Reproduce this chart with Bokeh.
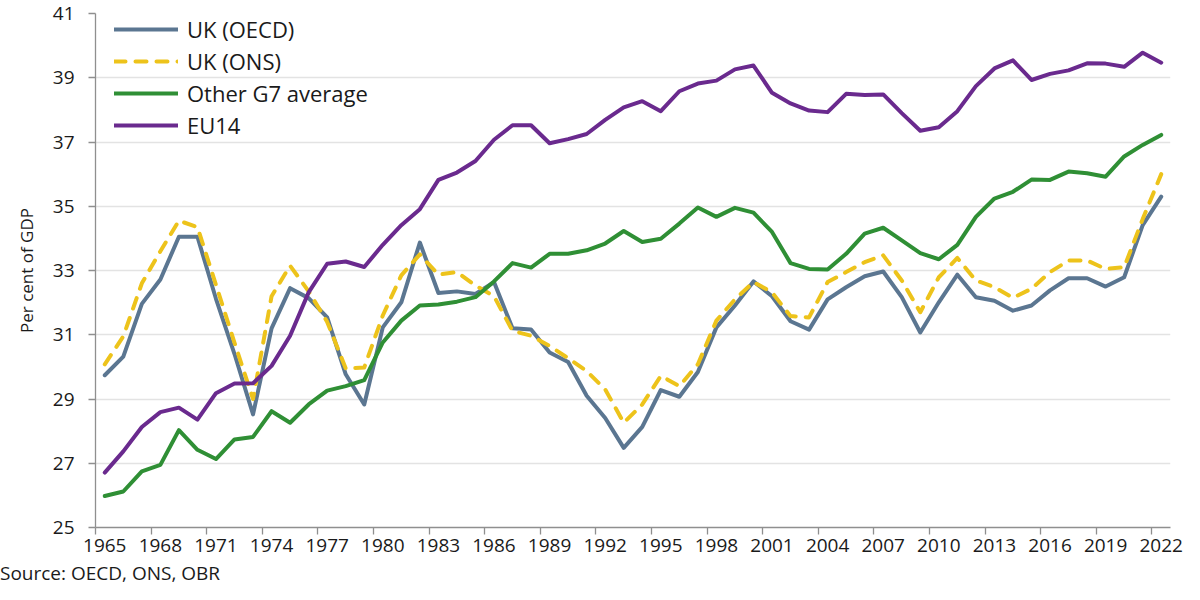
from bokeh.plotting import figure
from bokeh.layouts import column
from bokeh.models import FixedTicker, Legend, LegendItem, Range1d, Div
from bokeh.embed import file_html
from bokeh.resources import INLINE

years = list(range(1965, 2023))

uk_oecd = [29.74, 30.32, 31.96, 32.72, 34.05, 34.05, 32.12, 30.40, 28.52, 31.20,
           32.45, 32.14, 31.54, 29.77, 28.83, 31.23, 32.01, 33.87, 32.30, 32.35,
           32.27, 32.64, 31.20, 31.16, 30.45, 30.15, 29.10, 28.41, 27.48, 28.13,
           29.28, 29.07, 29.84, 31.23, 31.91, 32.66, 32.20, 31.42, 31.16, 32.10,
           32.48, 32.82, 32.97, 32.17, 31.07, 32.01, 32.87, 32.17, 32.06, 31.75,
           31.91, 32.38, 32.76, 32.76, 32.50, 32.79, 34.41, 35.30]

uk_ons = [30.08, 30.95, 32.60, 33.60, 34.55, 34.35, 32.55, 30.75, 29.00, 32.20,
          33.15, 32.35, 31.40, 29.95, 29.98, 31.60, 32.85, 33.50, 32.87, 32.95,
          32.53, 32.20, 31.12, 30.97, 30.65, 30.27, 29.87, 29.30, 28.26, 28.83,
          29.72, 29.40, 30.08, 31.44, 32.10, 32.64, 32.32, 31.58, 31.54, 32.64,
          32.95, 33.26, 33.47, 32.69, 31.70, 32.79, 33.39, 32.69, 32.48, 32.15,
          32.43, 32.95, 33.31, 33.31, 33.05, 33.10, 34.60, 36.00]

other_g7 = [25.98, 26.12, 26.75, 26.95, 28.03, 27.42, 27.13, 27.74, 27.82, 28.62,
            28.26, 28.83, 29.26, 29.40, 29.59, 30.76, 31.44, 31.91, 31.94, 32.03,
            32.17, 32.66, 33.23, 33.09, 33.52, 33.52, 33.63, 33.84, 34.23, 33.89,
            33.99, 34.46, 34.96, 34.67, 34.95, 34.80, 34.20, 33.23, 33.05, 33.03,
            33.52, 34.15, 34.33, 33.94, 33.54, 33.35, 33.80, 34.67, 35.24, 35.45,
            35.83, 35.82, 36.08, 36.03, 35.92, 36.55, 36.91, 37.22]

eu14 = [26.71, 27.37, 28.13, 28.59, 28.73, 28.36, 29.18, 29.48, 29.49, 30.03,
        30.97, 32.32, 33.21, 33.28, 33.11, 33.80, 34.41, 34.91, 35.82, 36.05,
        36.41, 37.07, 37.52, 37.52, 36.96, 37.09, 37.25, 37.69, 38.08, 38.27,
        37.96, 38.58, 38.82, 38.91, 39.26, 39.38, 38.53, 38.20, 37.98, 37.93,
        38.50, 38.46, 38.48, 37.90, 37.35, 37.46, 37.96, 38.74, 39.29, 39.54,
        38.93, 39.12, 39.23, 39.45, 39.44, 39.34, 39.78, 39.47]

series_names = ["UK (OECD)", "UK (ONS)", "Other G7 average", "EU14"]
y_ticks = [25, 27, 29, 31, 33, 35, 37, 39, 41]
x_label_years = list(range(1965, 2023, 3))
source_text = "Source: OECD, ONS, OBR"
y_title = "Per cent of GDP"

FONT = "Open Sans"
TXT = "#1a1a1a"
AXIS_C = "#8f8f8f"
colors = ["#5B7691", "#EDC31B", "#2F8F35", "#6A2A8E"]

W = 1184
P_H = 563
S_H = 21

p = figure(width=W, height=P_H, output_backend="svg", toolbar_location=None,
           x_range=Range1d(1964.5, 2022.5), y_range=Range1d(25, 41),
           min_border_left=95, min_border_right=14, min_border_top=13, min_border_bottom=36)
p.outline_line_color = None
p.background_fill_color = "white"
p.border_fill_color = "white"
p.xgrid.visible = False

# y axis
yax = p.yaxis[0]
yax.ticker = FixedTicker(ticks=y_ticks, minor_ticks=[])
yax.axis_line_color = AXIS_C
yax.axis_line_width = 1.3
yax.major_tick_line_color = AXIS_C
yax.major_tick_line_width = 1.3
yax.major_tick_out = 7
yax.major_tick_in = 0
yax.minor_tick_line_color = None
yax.major_label_text_font = FONT
yax.major_label_text_font_size = "19px"
yax.major_label_text_color = TXT
yax.major_label_standoff = 14
yax.axis_label = y_title
yax.axis_label_text_font = FONT
yax.axis_label_text_font_size = "17px"
yax.axis_label_text_font_style = "normal"
yax.axis_label_text_color = TXT
yax.axis_label_standoff = 12

p.ygrid.ticker = FixedTicker(ticks=y_ticks, minor_ticks=[])
p.ygrid.grid_line_color = "#e3e3e3"
p.ygrid.grid_line_width = 1.3

# x axis: labels at category centres, tick marks (minor) at category boundaries
boundaries = [y - 0.5 for y in x_label_years]
xax = p.xaxis[0]
xax.ticker = FixedTicker(ticks=x_label_years, minor_ticks=boundaries)
xax.axis_line_color = AXIS_C
xax.axis_line_width = 1.3
xax.major_tick_line_color = None
xax.major_tick_out = 7
xax.major_tick_in = 0
xax.minor_tick_line_color = AXIS_C
xax.minor_tick_line_width = 1.3
xax.minor_tick_out = 7
xax.minor_tick_in = 0
xax.major_label_text_font = FONT
xax.major_label_text_font_size = "19px"
xax.major_label_text_color = TXT
xax.major_label_standoff = 4

data = [uk_oecd, uk_ons, other_g7, eu14]
renderers = []
for i, vals in enumerate(data):
    kw = dict(line_color=colors[i], line_width=4, line_join="round", line_cap="round")
    if i == 1:
        kw["line_dash"] = "11 10"
    r = p.line(years, vals, **kw)
    renderers.append(r)

legend = Legend(items=[LegendItem(label=series_names[i], renderers=[renderers[i]]) for i in range(4)],
                location=(19, 387))
legend.label_text_font = FONT
legend.label_text_font_size = "22px"
legend.label_text_color = TXT
legend.glyph_width = 64
legend.glyph_height = 30
legend.label_height = 30
legend.spacing = 2
legend.padding = 0
legend.margin = 0
legend.label_standoff = 9
legend.background_fill_alpha = 0
legend.border_line_alpha = 0
p.add_layout(legend)

# source note under the chart, flush with the left edge
src = Div(text=source_text, width=W, height=S_H, margin=0,
          styles={"font-family": FONT, "font-size": "19px", "color": TXT,
                  "line-height": f"{S_H}px", "white-space": "nowrap"})

layout = column(p, src, spacing=0)
open("out.html", "w").write(file_html(layout, INLINE))
